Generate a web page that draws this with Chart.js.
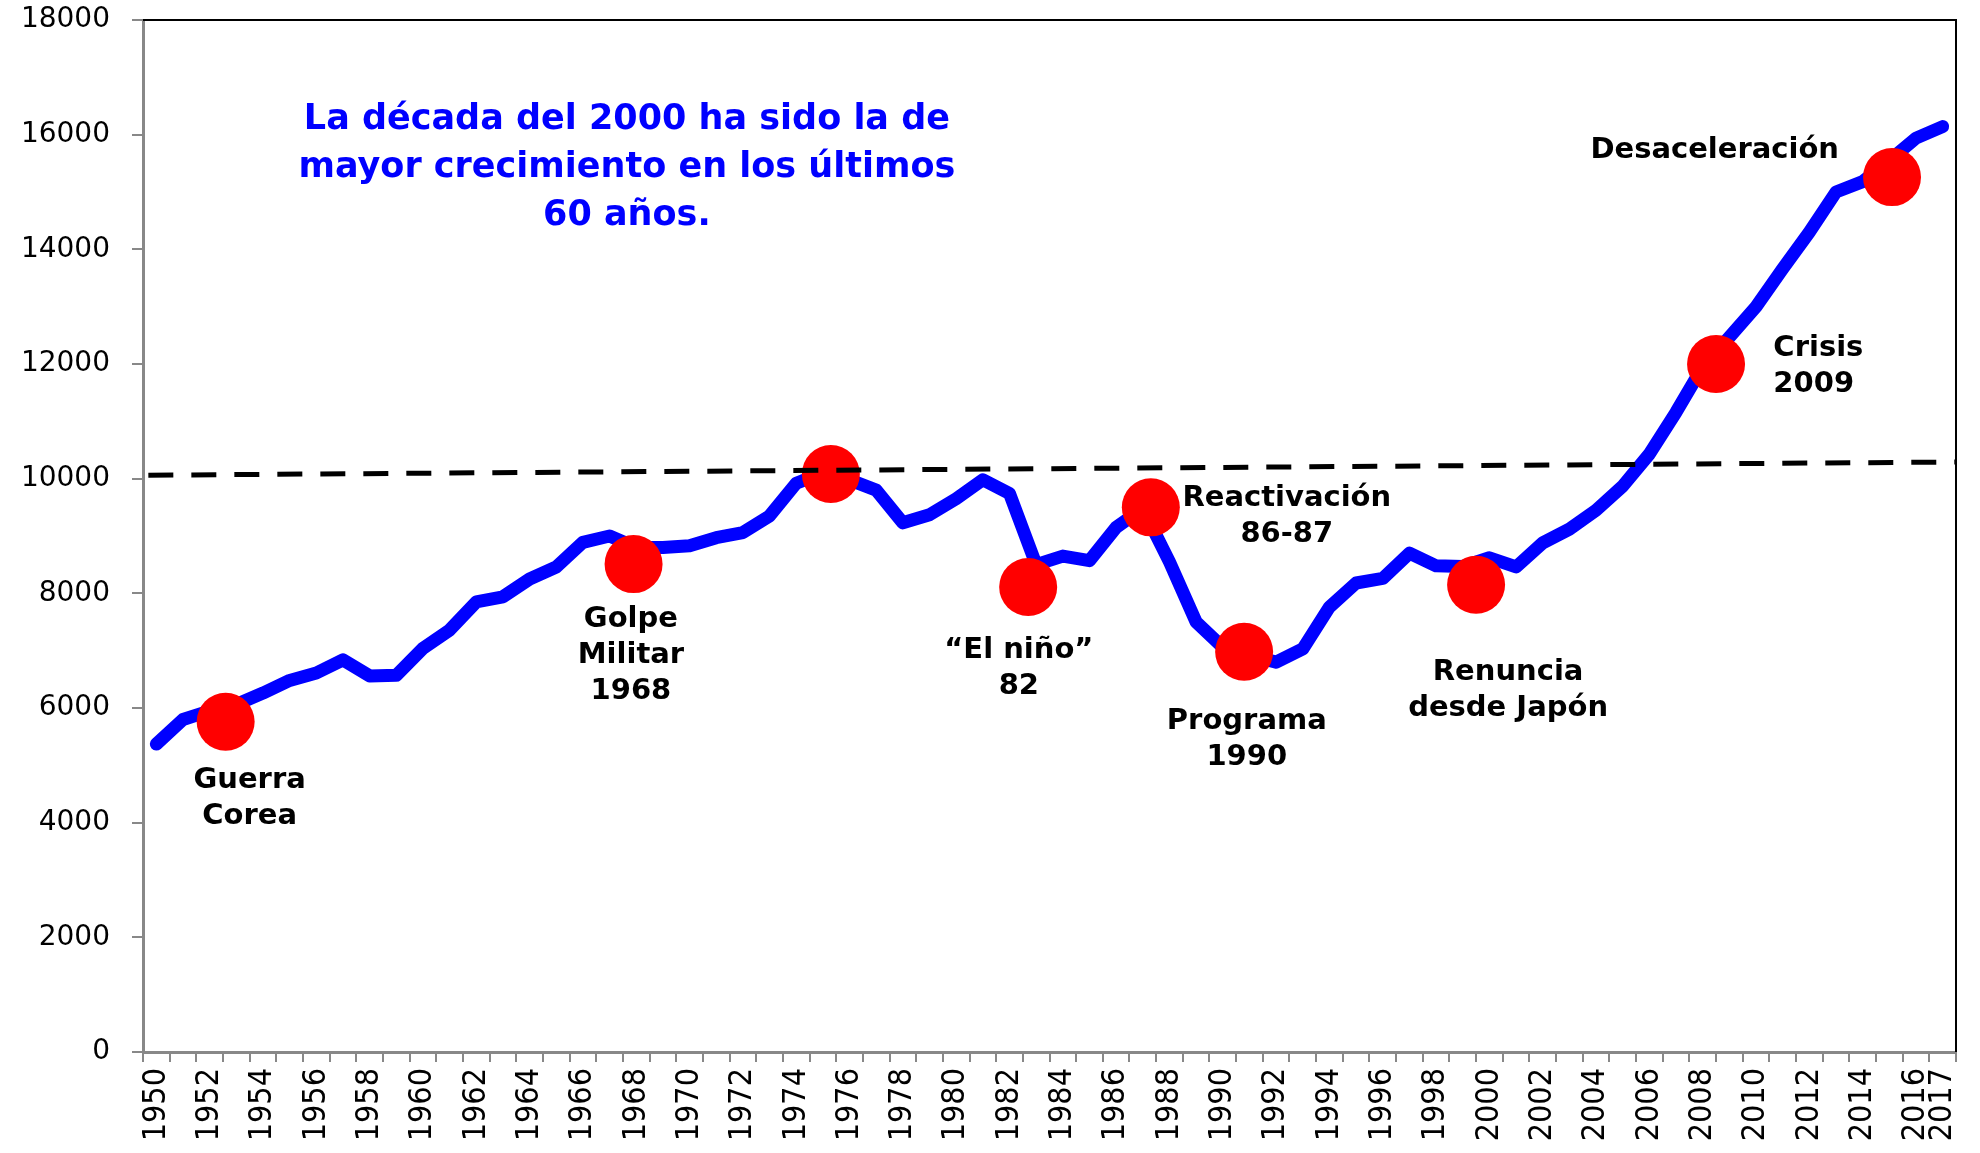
<!DOCTYPE html>
<html>
<head>
<meta charset="utf-8">
<script src="https://cdn.jsdelivr.net/npm/chart.js@4.4.0/dist/chart.umd.min.js"></script>
<style>
  html, body { margin: 0; padding: 0; background: #fff; }
  #wrap { width: 1980px; height: 1153px; }
</style>
</head>
<body>
<div id="wrap"><canvas id="myChart"></canvas></div>
<script>
// datos
const years = ["1950","1951","1952","1953","1954","1955","1956","1957","1958","1959",
  "1960","1961","1962","1963","1964","1965","1966","1967","1968","1969",
  "1970","1971","1972","1973","1974","1975","1976","1977","1978","1979",
  "1980","1981","1982","1983","1984","1985","1986","1987","1988","1989",
  "1990","1991","1992","1993","1994","1995","1996","1997","1998","1999",
  "2000","2001","2002","2003","2004","2005","2006","2007","2008","2009",
  "2010","2011","2012","2013","2014","2015","2016","2017"];
const pib = [5370, 5800, 5950, 6060, 6260, 6480, 6610, 6840, 6560, 6570,
  7040, 7360, 7850, 7940, 8250, 8460, 8890, 9000, 8800, 8800,
  8830, 8970, 9060, 9350, 9920, 10100, 9980, 9800, 9230, 9370,
  9650, 9980, 9740, 8500, 8650, 8570, 9150, 9480, 8550, 7500,
  7060, 6920, 6800, 7030, 7760, 8180, 8260, 8700, 8480, 8470,
  8620, 8460, 8880, 9120, 9450, 9870, 10430, 11160, 11950, 12470,
  13000, 13660, 14300, 15000, 15180, 15550, 15940, 16140];

// linea punteada (promedio)
const dashYears = [1949.7, 2017.5];
const dashValues = [10060, 10290];

// circulos rojos
const eventYears = [1952.6, 1967.9, 1975.3, 1982.7, 1987.3, 1990.8, 1999.5, 2008.5, 2015.1];
const eventValues = [5760, 8510, 10080, 8110, 9500, 6980, 8150, 12000, 15260];

const yTicks = [0, 2000, 4000, 6000, 8000, 10000, 12000, 14000, 16000, 18000];

// textos
const noteLines = [["Guerra", "Corea"], ["Golpe", "Militar", "1968"], ["\u201CEl niño\u201D", "82"],
  ["Reactivación", "86-87"], ["Programa", "1990"], ["Renuncia", "desde Japón"],
  ["Desaceleración"], ["Crisis", "2009"]];
const noteYears = [1953.5, 1967.8, 1982.35, 1992.4, 1990.9, 2000.7, 2008.45, 2010.65];
const noteValues = [4780, 7600, 7060, 9700, 5810, 6680, 15770, 12330];
const titleLines = ["La década del 2000 ha sido la de", "mayor crecimiento en los últimos", "60 años."];
const titleYear = 1967.65;
const titleValue = 16330;

const anotaciones = {
  id: "anotaciones",
  beforeDatasetsDraw(chart) {
    const { ctx, chartArea: a } = chart;
    ctx.save();
    ctx.strokeStyle = "#000";
    ctx.lineWidth = 2;
    ctx.beginPath();
    ctx.moveTo(a.left, a.top);
    ctx.lineTo(a.right, a.top);
    ctx.lineTo(a.right, a.bottom);
    ctx.stroke();
    ctx.restore();
  },
  afterDatasetsDraw(chart) {
    const ctx = chart.ctx;
    const xs = chart.scales.x2;
    const ys = chart.scales.y;
    ctx.save();
    ctx.textBaseline = "middle";
    ctx.fillStyle = "#000";
    ctx.font = "bold 29px 'DejaVu Sans'";
    noteLines.forEach((lines, i) => {
      const px = xs.getPixelForValue(noteYears[i]);
      const py = ys.getPixelForValue(noteValues[i]) + 3;
      ctx.textAlign = i === 7 ? "left" : "center";
      lines.forEach((t, j) => ctx.fillText(t, px, py + j * 36));
    });
    ctx.fillStyle = "#0000FF";
    ctx.font = "bold 35px 'DejaVu Sans'";
    ctx.textAlign = "center";
    const tx = xs.getPixelForValue(titleYear);
    const ty = ys.getPixelForValue(titleValue) + 4;
    titleLines.forEach((t, j) => ctx.fillText(t, tx, ty + j * 48));
    ctx.restore();
  }
};

new Chart("myChart", {
  data: {
    labels: years,
    datasets: [
      {
        type: "line",
        xAxisID: "x2",
        data: dashYears.map((x, i) => ({ x: x, y: dashValues[i] })),
        borderColor: "#000",
        borderWidth: 5,
        borderDash: [25, 18],
        pointRadius: 0,
        order: 0
      },
      {
        type: "scatter",
        xAxisID: "x2",
        data: eventYears.map((x, i) => ({ x: x, y: eventValues[i] })),
        backgroundColor: "#FF0000",
        borderWidth: 0,
        pointRadius: 29,
        order: 1
      },
      {
        type: "line",
        xAxisID: "x",
        data: pib,
        borderColor: "#0000FF",
        borderWidth: 13,
        borderCapStyle: "round",
        borderJoinStyle: "round",
        pointRadius: 0,
        tension: 0,
        order: 2
      }
    ]
  },
  options: {
    responsive: true,
    maintainAspectRatio: false,
    devicePixelRatio: 1,
    animation: false,
    layout: { autoPadding: false, padding: { top: 20, right: 24, left: 0, bottom: 0 } },
    plugins: { legend: { display: false }, tooltip: { enabled: false } },
    scales: {
      x: {
        type: "category",
        offset: true,
        grid: { offset: true, drawOnChartArea: false, tickLength: 10, color: "#888", lineWidth: 2 },
        border: { color: "#888", width: 3 },
        ticks: {
          autoSkip: false,
          maxRotation: 90,
          minRotation: 90,
          padding: 6,
          color: "#000",
          font: { family: "'Liberation Sans Narrow', 'DejaVu Sans Condensed', 'Liberation Sans'", size: 32 },
          callback: function (v, i) {
            const y = years[i];
            return (Number(y) % 2 === 0 || y === "2017") ? y : "";
          }
        },
        afterFit: s => { s.height = 101; s.paddingLeft = 0; s.paddingRight = 0; }
      },
      x2: {
        type: "linear",
        display: false,
        min: 1949.5,
        max: 2017.5
      },
      y: {
        min: 0,
        max: 18000,
        afterBuildTicks: s => { s.ticks = yTicks.map(v => ({ value: v })); },
        grid: { drawOnChartArea: false, tickLength: 11, color: "#888", lineWidth: 2 },
        border: { color: "#888", width: 3 },
        ticks: {
          padding: 22,
          color: "#000",
          font: { family: "'DejaVu Sans'", size: 28 },
          callback: v => String(v)
        },
        afterFit: s => { s.width = 143; s.paddingTop = 0; s.paddingBottom = 0; }
      }
    }
  },
  plugins: [anotaciones]
});
</script>
</body>
</html>
